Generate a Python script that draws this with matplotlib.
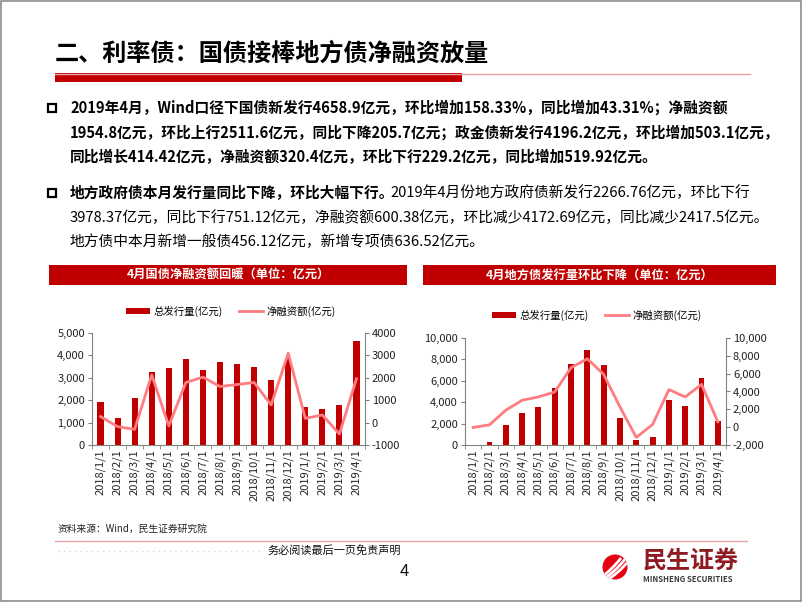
import matplotlib
matplotlib.use('Agg')
import matplotlib.pyplot as plt
from matplotlib.patches import Rectangle, Circle
from matplotlib.ticker import FuncFormatter, FixedLocator
import numpy as np

plt.rcParams['font.family'] = ['Noto Sans CJK SC', 'DejaVu Sans']

# ---------------- data ----------------
months = ['2018/1/1', '2018/2/1', '2018/3/1', '2018/4/1', '2018/5/1', '2018/6/1',
          '2018/7/1', '2018/8/1', '2018/9/1', '2018/10/1', '2018/11/1', '2018/12/1',
          '2019/1/1', '2019/2/1', '2019/3/1', '2019/4/1']
gov_issue = [1900, 1200, 2100, 3250, 3450, 3850, 3370, 3700, 3600, 3500, 2900, 3900,
             1690, 1610, 1800, 4659]
gov_net = [270, -180, -300, 2130, -150, 1790, 2030, 1610, 1700, 1790, 790, 3100,
           190, 340, -510, 1955]
local_issue = [0, 250, 1890, 3010, 3540, 5340, 7610, 8850, 7480, 2550, 430, 710,
               4190, 3630, 6240, 2267]
local_net = [-30, 260, 1900, 3020, 3390, 3950, 6670, 7670, 5920, 2270, -1150, 300,
             4210, 3390, 4800, 600]

legend_labels = ['总发行量(亿元)', '净融资额(亿元)']
chart_titles = ['4月国债净融资额回暖（单位：亿元）', '4月地方债发行量环比下降（单位：亿元）']
title = '二、利率债：国债接棒地方债净融资放量'
para1 = ['2019年4月，Wind口径下国债新发行4658.9亿元，环比增加158.33%，同比增加43.31%；净融资额',
         '1954.8亿元，环比上行2511.6亿元，同比下降205.7亿元；政金债新发行4196.2亿元，环比增加503.1亿元，',
         '同比增长414.42亿元，净融资额320.4亿元，环比下行229.2亿元，同比增加519.92亿元。']
para2_bold = '地方政府债本月发行量同比下降，环比大幅下行。'
para2 = ['2019年4月份地方政府债新发行2266.76亿元，环比下行',
         '3978.37亿元，同比下行751.12亿元，净融资额600.38亿元，环比减少4172.69亿元，同比减少2417.5亿元。',
         '地方债中本月新增一般债456.12亿元，新增专项债636.52亿元。']
source = '资料来源：Wind，民生证券研究院'
disclaimer = '务必阅读最后一页免责声明'
page_no = '4'

BAR = '#C00000'
LINE = '#FF7C80'
RED = '#C00000'
W, H = 802, 602

fig = plt.figure(figsize=(W / 100, H / 100), dpi=100)
fig.patch.set_facecolor('white')

bg = fig.add_axes([0, 0, 1, 1], zorder=0)
bg.set_xlim(0, W)
bg.set_ylim(H, 0)
bg.axis('off')

# slide border
bg.add_patch(Rectangle((0.5, 0.5), W - 1.5, H - 1.5, fill=False, ec='#8c8c8c', lw=1.2))

# title
bg.text(55, 54, title, fontsize=17.4, fontweight='bold', va='center', ha='left', color='black')
bg.plot([55, 750], [73.5, 73.5], color='#E8A0A3', lw=1.0)
bg.add_patch(Rectangle((55, 73), 407, 9, color=RED, lw=0))

# bullets
for by in (108, 193):
    bg.add_patch(Rectangle((48, by - 4), 8, 8, fill=False, ec='black', lw=1.6))

fs_txt = 10.6
for ln, y in zip(para1, [108, 133, 157]):
    bg.text(70, y, ln, fontsize=fs_txt, fontweight='bold', va='center', ha='left')

bg.text(70, 193, para2_bold, fontsize=fs_txt, fontweight='bold', va='center', ha='left')
bg.text(390, 193, para2[0], fontsize=fs_txt, va='center', ha='left')
bg.text(70, 218, para2[1], fontsize=fs_txt, va='center', ha='left')
bg.text(70, 242, para2[2], fontsize=fs_txt, va='center', ha='left')

# chart header boxes
for (x0, x1), t in zip([(49, 407), (423, 776)], chart_titles):
    bg.add_patch(Rectangle((x0, 265), x1 - x0, 19.5, color=RED, lw=0))
    bg.text((x0 + x1) / 2, 275, t, fontsize=8.8, fontweight='bold', color='white',
            va='center', ha='center')

# footer
bg.text(58, 529, source, fontsize=7, va='center', ha='left', color='#222222')
bg.plot([55, 747], [541, 541], color='#E6A5A8', lw=1.0)
bg.plot([58, 262], [551, 551], color='#d8d8d8', lw=1.0, ls=(0, (1, 3)))
bg.text(267, 551, disclaimer, fontsize=8, va='center', ha='left', color='#111111')
bg.text(404, 571, page_no, fontsize=12, va='center', ha='center', color='#111111')

# logo
circ = Circle((615, 567), 12.5, color='#E60012', lw=0)
bg.add_patch(circ)
for off in (-6, -1, 4):
    t = np.linspace(0, 1, 30)
    xs = 603 + off + 24 * t
    ys = 580 - 22 * t + 8 * t * (1 - t)
    ln, = bg.plot(xs, ys, color='white', lw=2.0, solid_capstyle='butt')
    ln.set_clip_path(circ)
bg.text(643, 561, '民生证券', fontsize=17.3, fontweight='bold', color='#8E1B21',
        va='center', ha='left')
bg.text(643, 579, 'MINSHENG SECURITIES', fontsize=5.6, fontweight='bold', color='#3a3a3a',
        va='center', ha='left')


def fig_rect(x0, x1, ytop, ybot):
    return [x0 / W, 1 - ybot / H, (x1 - x0) / W, (ybot - ytop) / H]


def draw_chart(rect, issue, net, lmax, lstep, rmin, rmax, rstep, rfmt, legend_xy):
    ax = fig.add_axes(rect, zorder=2)
    ax.patch.set_alpha(0)
    x = np.arange(len(months))
    b = ax.bar(x, issue, width=0.36, color=BAR, zorder=2)
    ax.set_xlim(-0.5, len(months) - 0.5)
    ax.set_ylim(0, lmax)
    ax.yaxis.set_major_locator(FixedLocator(np.arange(0, lmax + 1, lstep)))
    ax.yaxis.set_major_formatter(FuncFormatter(lambda v, p: f'{int(v):,}'))
    ax.set_xticks(x)
    ax.set_xticklabels(months, rotation=90, fontsize=8, color='#222222')
    ax.xaxis.set_minor_locator(FixedLocator(np.arange(-0.5, len(months), 1.0)))
    ax.tick_params(axis='x', which='major', length=0, pad=3)
    ax.tick_params(axis='x', which='minor', length=3, color='#808080', direction='out')
    ax.tick_params(axis='y', length=3, color='#808080', labelsize=8, labelcolor='#222222', pad=2)
    for s in ('top', 'right'):
        ax.spines[s].set_visible(False)
    for s in ('left', 'bottom'):
        ax.spines[s].set_color('#808080')
        ax.spines[s].set_linewidth(0.8)

    ax2 = ax.twinx()
    ax2.set_zorder(3)
    ax2.patch.set_alpha(0)
    l, = ax2.plot(x, net, color=LINE, lw=2.0, zorder=3)
    ax2.set_ylim(rmin, rmax)
    ax2.yaxis.set_major_locator(FixedLocator(np.arange(rmin, rmax + 1, rstep)))
    ax2.yaxis.set_major_formatter(FuncFormatter(rfmt))
    ax2.tick_params(axis='y', length=3, color='#808080', labelsize=8, labelcolor='#222222', pad=2)
    for s in ('top', 'left', 'bottom'):
        ax2.spines[s].set_visible(False)
    ax2.spines['right'].set_color('#808080')
    ax2.spines['right'].set_linewidth(0.8)

    fig.legend([b, l], legend_labels, loc='center',
               bbox_to_anchor=(legend_xy[0] / W, 1 - legend_xy[1] / H),
               ncol=2, frameon=False, fontsize=7.5, handlelength=2.3,
               handletextpad=0.3, columnspacing=1.6, handleheight=0.5)
    return ax, ax2


draw_chart(fig_rect(92, 365, 333, 445), gov_issue, gov_net, 5000, 1000,
           -1000, 4000, 1000, lambda v, p: f'{int(v)}', (231, 311))
draw_chart(fig_rect(465, 726, 338, 445), local_issue, local_net, 10000, 2000,
           -2000, 10000, 2000, lambda v, p: f'{int(v):,}', (597, 315))

fig.savefig('out.png', dpi=100, facecolor='white')
